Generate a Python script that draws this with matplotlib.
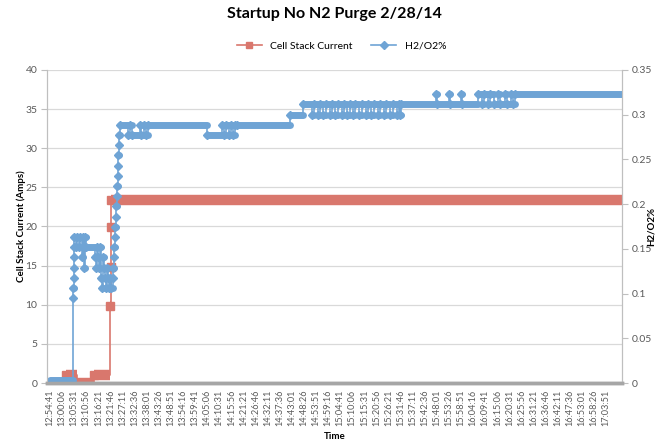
import numpy as np
import pandas as pd
import matplotlib.pyplot as plt
from matplotlib.lines import Line2D

plt.rcParams['font.family'] = ['Lato', 'DejaVu Sans']

START = "12:54:41"

tick_labels = [
    "12:54:41", "13:00:06", "13:05:31", "13:10:56", "13:16:21", "13:21:46",
    "13:27:11", "13:32:36", "13:38:01", "13:43:26", "13:48:51", "13:54:16",
    "13:59:41", "14:05:06", "14:10:31", "14:15:56", "14:21:21", "14:26:46",
    "14:32:11", "14:37:36", "14:43:01", "14:48:26", "14:53:51", "14:59:16",
    "15:04:41", "15:10:06", "15:15:31", "15:20:56", "15:26:21", "15:31:46",
    "15:37:11", "15:42:36", "15:48:01", "15:53:26", "15:58:51", "16:04:16",
    "16:09:41", "16:15:06", "16:20:31", "16:25:56", "16:31:21", "16:36:46",
    "16:42:11", "16:47:36", "16:53:01", "16:58:26", "17:03:51",
]

# cell stack current (A), value holds until next time
current_time = ["12:54:41", "13:01:51", "13:06:47", "13:14:24", "13:21:40",
                "13:21:50", "13:22:00", "13:22:10", "17:10:50"]
current_val = [0.0, 1.0, 0.0, 1.0, 9.8, 14.8, 19.9, 23.4, 23.4]

# H2/O2 % (secondary axis), value holds until next time
h2o2_time = [
    "12:54:41", "13:05:05", "13:05:10", "13:05:15", "13:05:20", "13:05:25",
    "13:05:30", "13:05:35", "13:06:20", "13:06:47", "13:07:40", "13:08:07",
    "13:09:01", "13:09:15", "13:09:28", "13:09:55", "13:10:08", "13:10:22",
    "13:10:49", "13:14:51", "13:15:18", "13:15:45", "13:16:11", "13:16:38",
    "13:17:05", "13:17:32", "13:17:59", "13:18:26", "13:18:53", "13:19:20",
    "13:19:47", "13:20:13", "13:20:40", "13:21:07", "13:21:34", "13:22:01",
    "13:22:45", "13:22:58", "13:23:11", "13:23:24", "13:23:37", "13:23:50",
    "13:24:03", "13:24:16", "13:24:29", "13:24:42", "13:24:55", "13:25:08",
    "13:25:21", "13:25:34", "13:25:47", "13:26:00",
    "13:29:40", "13:30:40", "13:31:20", "13:35:00", "13:35:40", "13:36:50",
    "13:37:30", "13:38:30",
    "14:05:01", "14:11:44", "14:12:38", "14:13:32", "14:14:52", "14:15:46",
    "14:16:40", "14:17:34", "14:18:27",
    "14:42:12", "14:48:02", "14:52:04", "14:52:57", "14:54:45", "14:55:39",
    "14:56:59", "14:58:20", "15:00:07", "15:01:01", "15:02:22", "15:03:42",
    "15:05:30", "15:06:24", "15:07:44", "15:09:05", "15:10:26", "15:11:19",
    "15:13:07", "15:14:28", "15:16:15", "15:17:09", "15:18:29", "15:19:50",
    "15:21:38", "15:22:31", "15:24:19", "15:25:13", "15:27:00", "15:28:21",
    "15:30:08", "15:31:02", "15:31:29", "15:31:56",
    "15:47:37", "15:47:52", "15:53:26", "15:53:41", "15:58:49", "15:59:04",
    "16:06:26", "16:08:13", "16:09:07", "16:10:54", "16:11:48", "16:13:36",
    "16:15:23", "16:16:17", "16:18:31", "16:19:25", "16:21:13", "16:22:06",
    "16:23:00", "17:10:50",
]
h2o2_val = [
    0.003, 0.0949, 0.1063, 0.1177, 0.1291, 0.1405,
    0.1519, 0.1633, 0.1519, 0.1633, 0.1519, 0.1633,
    0.1405, 0.1519, 0.1633, 0.1291, 0.1519, 0.1633,
    0.1519, 0.1405, 0.1291, 0.1519, 0.1405, 0.1291,
    0.1519, 0.1177, 0.1063, 0.1405, 0.1291, 0.1177,
    0.1063, 0.1291, 0.1177, 0.1063, 0.1177, 0.1063,
    0.1177, 0.1291, 0.1405, 0.1519, 0.1633, 0.1747,
    0.1861, 0.1975, 0.2089, 0.2203, 0.2317, 0.2431,
    0.2545, 0.2659, 0.2773, 0.2887,
    0.2773, 0.2887, 0.2773, 0.2887, 0.2773, 0.2887,
    0.2773, 0.2887,
    0.2773, 0.2887, 0.2773, 0.2887, 0.2773, 0.2887,
    0.2773, 0.2887, 0.2887,
    0.3001, 0.3115, 0.3001, 0.3115, 0.3001, 0.3115,
    0.3001, 0.3115, 0.3001, 0.3115, 0.3001, 0.3115,
    0.3001, 0.3115, 0.3001, 0.3115, 0.3001, 0.3115,
    0.3001, 0.3115, 0.3001, 0.3115, 0.3001, 0.3115,
    0.3001, 0.3115, 0.3001, 0.3115, 0.3001, 0.3115,
    0.3001, 0.3115, 0.3001, 0.3115,
    0.3229, 0.3115, 0.3229, 0.3115, 0.3229, 0.3115,
    0.3229, 0.3115, 0.3229, 0.3115, 0.3229, 0.3115,
    0.3229, 0.3115, 0.3229, 0.3115, 0.3229, 0.3115,
    0.3229, 0.3229,
]

RED = "#d9776d"
BLUE = "#6fa4d5"
GRAY = "#595959"


def secs(times):
    return (pd.to_timedelta(times).total_seconds().to_numpy()
            - pd.to_timedelta(START).total_seconds())


cx, cy = secs(current_time), np.array(current_val)
hx, hy = secs(h2o2_time), np.array(h2o2_val)
tick_pos = secs(tick_labels)

fig = plt.figure(figsize=(6.63, 4.41), dpi=100)
ax = fig.add_axes([0.0709, 0.1315, 0.8673, 0.7098])
ax2 = ax.twinx()

# current on the primary axis
ax.hlines(cy[:-1], cx[:-1], cx[1:], color=RED, lw=7.5, capstyle="butt")
ax.plot(cx, cy, color=RED, lw=1.2, drawstyle="steps-post")
ax.plot(cx[1:-1], cy[1:-1], "s", color=RED, ms=5.5, mec=RED)

# H2/O2 on the secondary axis
ax2.hlines(hy[:-1], hx[:-1], hx[1:], color=BLUE, lw=5, capstyle="round")
ax2.plot(hx, hy, color=BLUE, lw=1.2, drawstyle="steps-post")
ax2.plot(hx[1:-1], hy[1:-1], "D", color=BLUE, ms=3.6, mec=BLUE)

ax.set_ylim(0, 40)
ax.set_yticks(np.arange(0, 41, 5))
ax2.set_ylim(0, 0.35)
ax2.set_yticks(np.arange(0, 0.351, 0.05))
ax2.set_yticklabels(["0", "0.05", "0.1", "0.15", "0.2", "0.25", "0.3", "0.35"])
ax.set_xlim(-81, 15376)
ax.set_xticks(tick_pos)
ax.set_xticklabels(tick_labels, rotation=90, fontsize=6.6, color=GRAY)

ax.yaxis.grid(True, color="#d9d9d9", lw=0.9)
ax.set_axisbelow(True)

for a in (ax, ax2):
    a.spines["top"].set_visible(False)
    a.spines["left"].set_color("#bfbfbf")
    a.spines["right"].set_color("#bfbfbf")
    a.spines["bottom"].set_color("#a6a6a6")
    a.spines["bottom"].set_linewidth(2.5)
    a.tick_params(axis="y", length=4, color="#bfbfbf", labelsize=7.5,
                  labelcolor=GRAY, pad=3)
ax.tick_params(axis="x", length=0, pad=5)

# axis titles placed where the reference has them
mid_y = 0.1315 + 0.7098 / 2
fig.text(21 / 663, mid_y, "Cell Stack Current (Amps)", rotation=90,
         ha="center", va="center", fontsize=7, fontweight="bold")
fig.text(651 / 663, mid_y, "H2/O2%", rotation=90,
         ha="center", va="center", fontsize=7, fontweight="bold")
ax.set_xlabel("Time", fontsize=7, fontweight="bold", labelpad=4)

fig.suptitle("Startup No N2 Purge 2/28/14", x=0.505, y=0.985,
             fontsize=11.5, fontweight="bold")

handles = [
    Line2D([], [], color=RED, marker="s", ms=5, lw=1.2, label="Cell Stack Current"),
    Line2D([], [], color=BLUE, marker="D", ms=3.6, lw=1.2, label="H2/O2%"),
]
fig.legend(handles=handles, loc="center", bbox_to_anchor=(0.515, 0.896),
           ncol=2, frameon=False, fontsize=7.5, handlelength=2.4,
           columnspacing=1.8)

fig.savefig("out.png", dpi=100)
